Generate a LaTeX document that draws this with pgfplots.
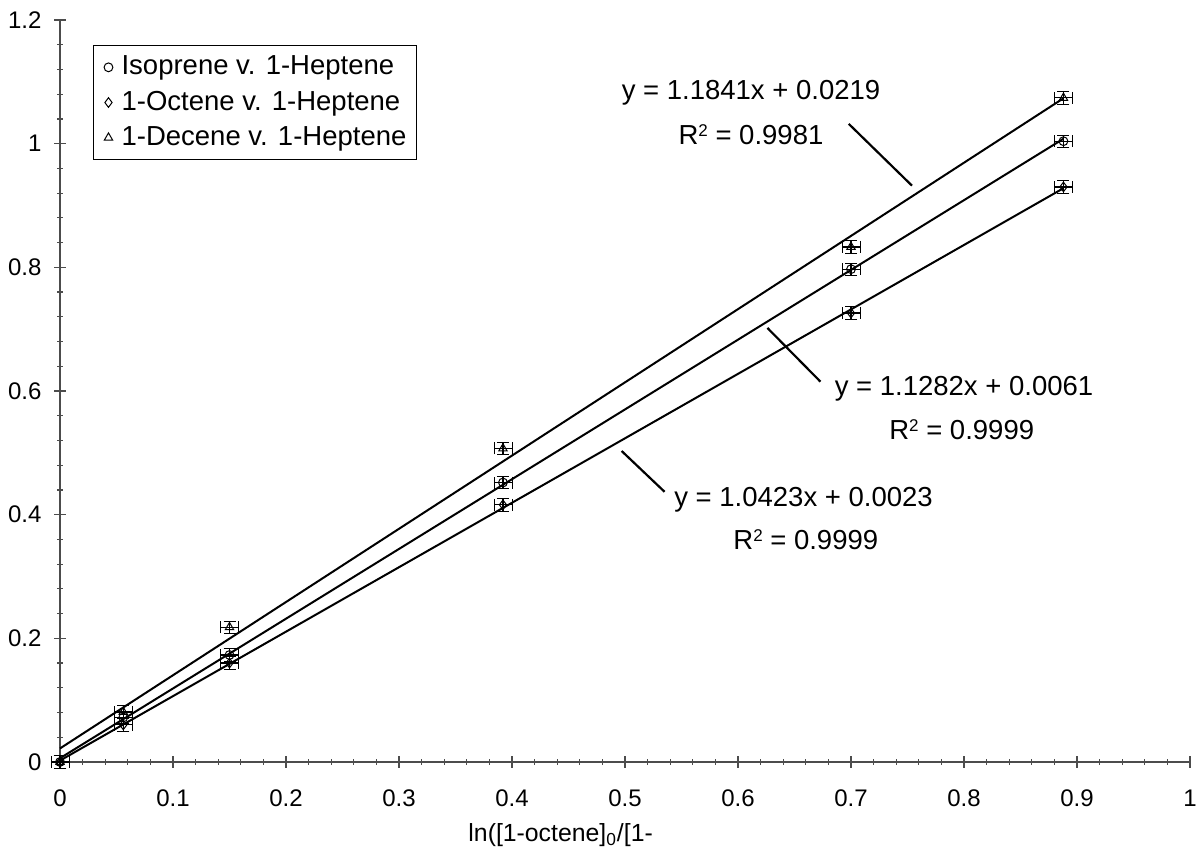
\documentclass[border=0pt]{standalone}
\usepackage{fontspec}
\setmainfont{Liberation Sans}
\usepackage{pgfplots}
\pgfplotsset{compat=1.18}
\newcommand{\sq}{\raisebox{0.55ex}{\fontsize{8.5pt}{9pt}\selectfont 2}}
\begin{document}
\fontsize{13.75pt}{16pt}\selectfont
\begin{tikzpicture}
\path[use as bounding box] (0,0) rectangle (600pt,430.5pt);
\begin{axis}[
  at={(30pt,49.5pt)}, anchor=south west,
  scale only axis, width=565pt, height=371pt,
  xmin=0, xmax=1, ymin=0, ymax=1.2,
  axis lines*=left,
  xtick={0,0.1,0.2,0.3,0.4,0.5,0.6,0.7,0.8,0.9,1},
  ytick={0,0.2,0.4,0.6,0.8,1,1.2},
  minor x tick num=4, minor y tick num=4,
  tick align=center, major tick length=6pt, minor tick length=3pt,
  axis line style={black!70, line width=0.6pt},
  tick style={black!70, line width=0.6pt},
  /pgf/number format/assume math mode=true,
  tick label style={font=\fontsize{12pt}{14pt}\selectfont},
  xticklabel style={anchor=north, yshift=-6pt},
  yticklabel style={anchor=east, xshift=-1.5pt},
  xlabel={ln([1-octene]\textsubscript{0}/[1-},
  xlabel style={at={(axis description cs:0.353,0)}, anchor=base west, yshift=-40pt,
    font=\fontsize{12.4pt}{14pt}\selectfont},
  legend style={at={(0.029,0.966)}, anchor=north west, draw=black, line width=0.6pt,
    font=\fontsize{13.75pt}{16pt}\selectfont, row sep=2pt, inner xsep=3pt, inner ysep=3pt,
    cells={anchor=west}},
  legend image code/.code={\path[draw=none, fill=none] (0cm,0cm) -- (0.32cm,0cm); \draw[#1, line width=0.5pt] plot coordinates {(0.16cm,0cm)};},
  clip=false,
]
% fit lines
\addplot[black, line width=1pt, forget plot] coordinates {(0,0.0219) (0.888,1.0734)};
\addplot[black, line width=1pt, forget plot] coordinates {(0,0.0061) (0.888,1.0079)};
\addplot[black, line width=1pt, forget plot] coordinates {(0,0.0023) (0.888,0.9279)};
% data
\addplot[black, only marks, mark=o, mark size=2.2pt, mark options={line width=0.5pt},
  error bars/.cd, x dir=both, x fixed=0.008, y dir=both, y fixed=0.01,
  error bar style={black, line width=0.6pt}, error mark options={black, rotate=90, mark size=3pt}]
  coordinates {(0,0) (0.056,0.072) (0.15,0.173) (0.392,0.452) (0.70,0.797) (0.888,1.004)};
\addlegendentry{Isoprene v. 1-Heptene}
\addplot[black, only marks, mark=diamond, mark size=2.4pt, mark options={line width=0.5pt},
  error bars/.cd, x dir=both, x fixed=0.008, y dir=both, y fixed=0.01,
  error bar style={black, line width=0.6pt}, error mark options={black, rotate=90, mark size=3pt}]
  coordinates {(0,0) (0.056,0.060) (0.15,0.160) (0.392,0.416) (0.70,0.726) (0.888,0.930)};
\addlegendentry{1-Octene v. 1-Heptene}
\addplot[black, only marks, mark=triangle, mark size=2.4pt, mark options={line width=0.5pt},
  error bars/.cd, x dir=both, x fixed=0.008, y dir=both, y fixed=0.01,
  error bar style={black, line width=0.6pt}, error mark options={black, rotate=90, mark size=3pt}]
  coordinates {(0,0) (0.056,0.081) (0.15,0.218) (0.392,0.507) (0.70,0.833) (0.888,1.074)};
\addlegendentry{1-Decene v. 1-Heptene}
% annotations
\draw[black, line width=1.1pt] (axis cs:0.698,1.032) -- (axis cs:0.754,0.932);
\draw[black, line width=1.1pt] (axis cs:0.626,0.702) -- (axis cs:0.673,0.615);
\draw[black, line width=1.1pt] (axis cs:0.497,0.503) -- (axis cs:0.535,0.437);
\node[anchor=base] at (axis cs:0.6115,1.0707) {y = 1.1841x + 0.0219};
\node[anchor=base] at (axis cs:0.6115,0.998) {R\sq{} = 0.9981};
\node[anchor=base] at (axis cs:0.800,0.592) {y = 1.1282x + 0.0061};
\node[anchor=base] at (axis cs:0.798,0.521) {R\sq{} = 0.9999};
\node[anchor=base] at (axis cs:0.658,0.414) {y = 1.0423x + 0.0023};
\node[anchor=base] at (axis cs:0.660,0.343) {R\sq{} = 0.9999};
\end{axis}
\end{tikzpicture}
\end{document}
